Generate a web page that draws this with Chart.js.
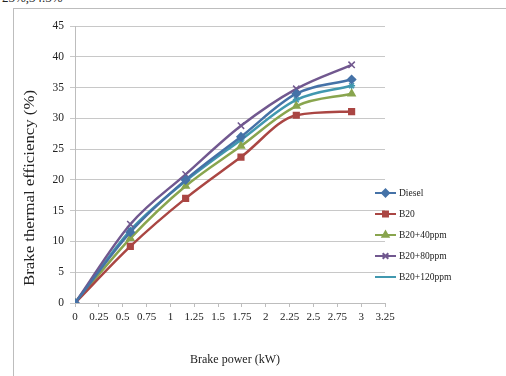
<!DOCTYPE html>
<html>
<head>
<meta charset="utf-8">
<script src="https://cdn.jsdelivr.net/npm/chart.js@4.4.0/dist/chart.umd.min.js"></script>
<style>
  html, body { margin: 0; padding: 0; background: #fff; overflow: hidden; }
  #wrap { position: relative; width: 506px; height: 376px; overflow: hidden; }
  #frame { position: absolute; left: 13px; top: 8px; width: 600px; height: 500px; border: 1px solid #bdbdbd; box-sizing: border-box; }
  #cap { position: absolute; left: 2px; top: -10px; font: 13px "Liberation Serif", serif; color: #222; }
  canvas { position: absolute; left: 0; top: 0; }
</style>
</head>
<body>
<div id="wrap">
  <div id="cap">25%,34.5%</div>
  <div id="frame"></div>
  <canvas id="myChart" width="506" height="376"></canvas>
</div>
<script>
let ctx = document.getElementById("myChart");

// brake power (kW)
let power = [0, 0.58, 1.16, 1.74, 2.32, 2.9];

let diesel  = [0, 11.5, 20.0, 27.0, 34.0, 36.3];
let b20     = [0, 9.2, 17.0, 23.7, 30.5, 31.1];
let b20p40  = [0, 10.5, 19.0, 25.5, 32.0, 34.0];
let b20p80  = [0, 12.8, 20.9, 28.8, 34.8, 38.7];
let b20p120 = [0, 11.8, 19.8, 26.5, 33.0, 35.3];

let names = ["Diesel", "B20", "B20+40ppm", "B20+80ppm", "B20+120ppm"];

let serif = "'Liberation Serif', 'Times New Roman', serif";

function pts(arr) {
  return arr.map((v, i) => ({ x: power[i], y: v }));
}

function serie(label, arr, color, style, r) {
  return {
    label: label,
    data: pts(arr),
    borderColor: color,
    backgroundColor: color,
    borderWidth: 2.5,
    pointStyle: style,
    pointRadius: r,
    pointBorderWidth: 1.5,
    showLine: true,
    cubicInterpolationMode: "monotone",
  };
}

// legend + axis titles drawn by hand
let extras = {
  id: "extras",
  afterDraw(chart) {
    let c = chart.ctx;
    c.save();
    c.fillStyle = "#222";
    c.font = "14px " + serif;
    c.translate(30, 188);
    c.rotate(-Math.PI / 2);
    c.scale(1.2, 1);
    c.textAlign = "center";
    c.textBaseline = "middle";
    c.fillText("Brake thermal efficiency (%)", 0, 0);
    c.restore();

    c.save();
    c.fillStyle = "#222";
    c.font = "12px " + serif;
    c.textAlign = "center";
    c.textBaseline = "middle";
    c.fillText("Brake power (kW)", 235, 360);
    c.restore();

    chart.data.datasets.forEach((ds, i) => {
      let y = 193 + i * 21;
      c.save();
      c.strokeStyle = ds.borderColor;
      c.lineWidth = 2;
      c.beginPath();
      c.moveTo(375, y);
      c.lineTo(396, y);
      c.stroke();
      if (ds.pointStyle !== "star") {
        Chart.helpers.drawPoint(c, {
          pointStyle: ds.pointStyle,
          radius: ds.pointRadius - 0.5,
          borderWidth: 1.5,
        }, 385.5, y);
        c.fillStyle = ds.backgroundColor;
        c.fill();
      }
      c.fillStyle = "#222";
      c.font = "9.5px " + serif;
      c.textBaseline = "middle";
      c.fillText(ds.label, 399, y + 0.5);
      c.restore();
    });
  },
};

let chartt = new Chart(ctx, {
  type: "scatter",
  data: {
    datasets: [
      serie(names[0], diesel, "#4572A7", "rectRot", 4),
      serie(names[1], b20, "#AA4643", "rect", 4),
      serie(names[2], b20p40, "#89A54E", "triangle", 4),
      serie(names[3], b20p80, "#71588F", "crossRot", 4.5),
      serie(names[4], b20p120, "#4198AF", "star", 3.5),
    ],
  },
  options: {
    responsive: false,
    animation: false,
    layout: { padding: { left: 0, right: 121, top: 26, bottom: 0 } },
    plugins: {
      legend: { display: false },
      tooltip: { enabled: false },
    },
    scales: {
      x: {
        type: "linear",
        min: 0,
        max: 3.25,
        afterFit(s) { s.height = 73; },
        ticks: {
          stepSize: 0.25,
          autoSkip: false,
          maxRotation: 0,
          padding: 4,
          color: "#222",
          font: { family: serif, size: 11 },
          callback: (v) => String(Math.round(v * 100) / 100),
        },
        grid: { drawOnChartArea: false, drawTicks: true, tickLength: 4, color: "#bdbdbd" },
        border: { color: "#bdbdbd" },
      },
      y: {
        min: 0,
        max: 45,
        afterFit(s) { s.width = 75; },
        ticks: {
          stepSize: 5,
          padding: 6,
          color: "#222",
          font: { family: serif, size: 11.5 },
        },
        grid: { color: "#c8c8c8", tickLength: 5 },
        border: { color: "#bdbdbd" },
      },
    },
  },
  plugins: [extras],
});
</script>
</body>
</html>
